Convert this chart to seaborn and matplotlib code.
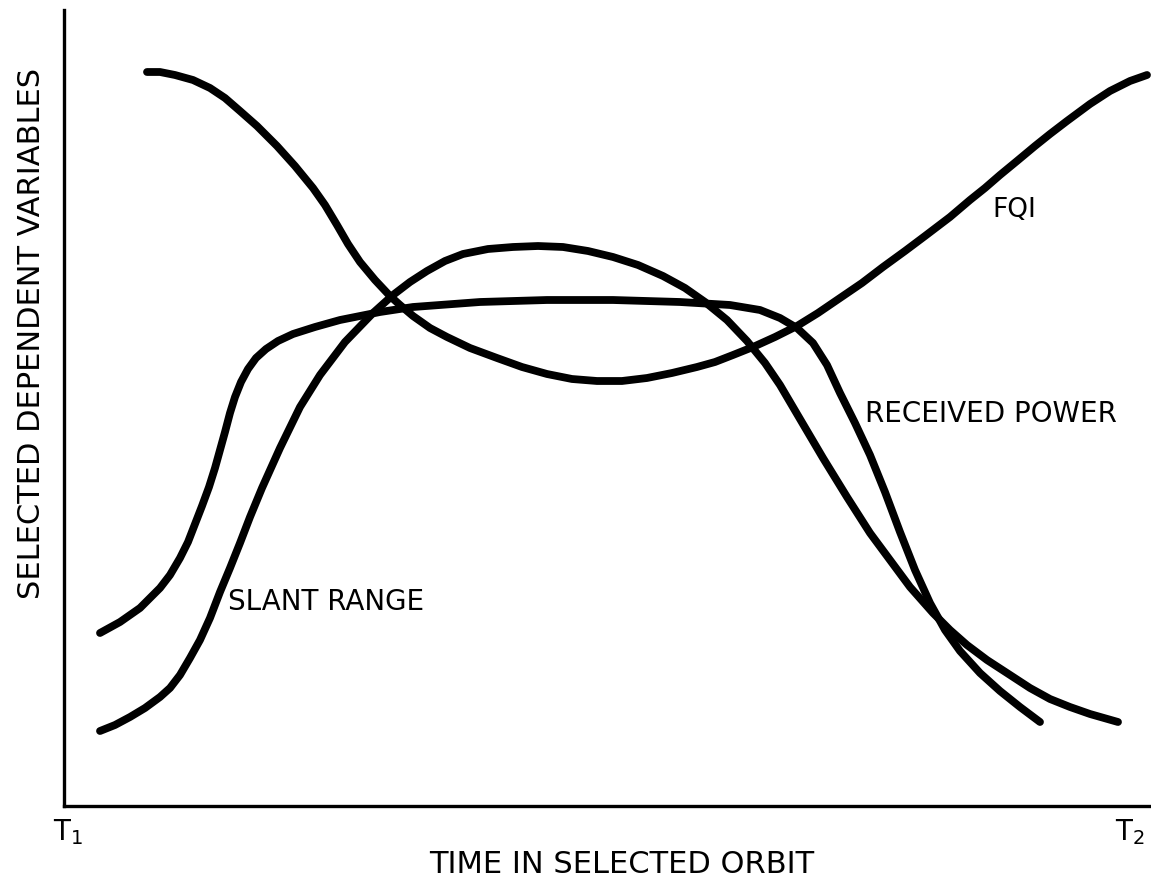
"""Orbit pass sketch: FQI, received power and slant range vs. time."""

import matplotlib

matplotlib.use("Agg")

import matplotlib.pyplot as plt
import pandas as pd
import seaborn as sns

# values (arbitrary units, time from T1)
fqi_time = [83, 96, 111, 129, 146, 161, 176, 193, 213, 231, 249, 261, 273, 284, 296,
            311, 326, 336, 349, 366, 383, 406, 433, 458, 483, 508, 533, 558, 583, 608,
            633, 651, 669, 689, 711, 733, 754, 776, 798, 819, 841, 861, 886, 906, 921,
            936, 953, 971, 986, 1003, 1026, 1046, 1066, 1083]
fqi_value = [734, 734, 731, 726, 718, 708, 695, 680, 660, 640, 618, 601, 581, 562, 544,
             526, 510, 501, 490, 478, 469, 458, 448, 439, 432, 427, 425, 425, 428, 433,
             439, 444, 451, 459, 469, 480, 493, 508, 523, 539, 555, 570, 589, 606, 618,
             631, 645, 660, 672, 685, 702, 715, 725, 731]

power_time = [36, 56, 76, 96, 106, 116, 124, 131, 138, 145, 151, 156, 161, 166, 171,
              177, 184, 192, 202, 214, 229, 251, 276, 316, 349, 416, 483, 549, 616, 666,
              696, 716, 733, 749, 763, 776, 791, 806, 821, 836, 851, 866, 881, 896, 916,
              936, 956, 976]
power_value = [173, 184, 198, 218, 231, 248, 264, 282, 300, 319, 338, 356, 374, 393, 409,
               424, 437, 448, 457, 465, 472, 479, 486, 494, 499, 504, 506, 506, 504, 501,
               496, 488, 478, 463, 441, 413, 383, 351, 314, 274, 236, 203, 176, 155, 133,
               115, 99, 84]

range_time = [36, 51, 66, 81, 96, 106, 116, 126, 136, 146, 156, 166, 176, 186, 198,
              216, 236, 256, 281, 309, 329, 346, 363, 381, 399, 424, 449, 474, 499, 524,
              549, 574, 599, 621, 641, 663, 683, 701, 716, 736, 759, 783, 806, 826, 846,
              869, 886, 903, 923, 943, 966, 986, 1006, 1026, 1054]
range_value = [75, 81, 89, 98, 109, 118, 131, 148, 166, 188, 214, 238, 263, 289, 318,
               358, 399, 431, 464, 493, 511, 524, 535, 545, 552, 557, 559, 560, 559, 555,
               549, 541, 530, 518, 504, 486, 465, 443, 421, 387, 348, 309, 273, 246, 219,
               193, 176, 161, 146, 133, 118, 107, 99, 92, 84]

tick_positions = [4, 1066]
tick_labels = [r"$\mathregular{T_1}$", r"$\mathregular{T_2}$"]

sns.set_theme(style="white")
plt.rcParams["font.family"] = ["DejaVu Sans"]
plt.rcParams.update({"text.color": "black", "axes.labelcolor": "black", "xtick.color": "black"})

fig = plt.figure(figsize=(11.51, 8.86), dpi=100)
ax = fig.add_axes([64 / 1151, 80 / 886, 1087 / 1151, 796 / 886])

curves = [
    ("FQI", fqi_time, fqi_value),
    ("RECEIVED POWER", power_time, power_value),
    ("SLANT RANGE", range_time, range_value),
]
for name, t, v in curves:
    df = pd.DataFrame({"time": t, "value": v})
    sns.lineplot(data=df, x="time", y="value", color="black", linewidth=5.6,
                 sort=False, estimator=None, ax=ax,
                 solid_capstyle="round", solid_joinstyle="round")

ax.set_xlim(0, 1087)
ax.set_ylim(0, 796)

for side in ["top", "right"]:
    ax.spines[side].set_visible(False)
for side in ["left", "bottom"]:
    ax.spines[side].set_color("black")
    ax.spines[side].set_linewidth(2.4)

ax.set_xticks(tick_positions)
ax.set_xticklabels(tick_labels, fontsize=20)
ax.set_yticks([])
ax.tick_params(axis="x", length=0, pad=8)

ax.set_xlabel("TIME IN SELECTED ORBIT", fontsize=22)
ax.xaxis.set_label_coords(0.513, -0.074)
ax.xaxis.label.set_va("center")
ax.set_ylabel("SELECTED DEPENDENT VARIABLES", fontsize=22)
ax.yaxis.set_label_coords(-0.030, 0.594)
ax.yaxis.label.set_va("center")

ax.text(164, 204, "SLANT RANGE", fontsize=20, ha="left", va="center")
ax.text(801, 392, "RECEIVED POWER", fontsize=20, ha="left", va="center")
ax.text(950, 596, "FQI", fontsize=19, ha="center", va="center")

fig.savefig("out.png", dpi=100)
